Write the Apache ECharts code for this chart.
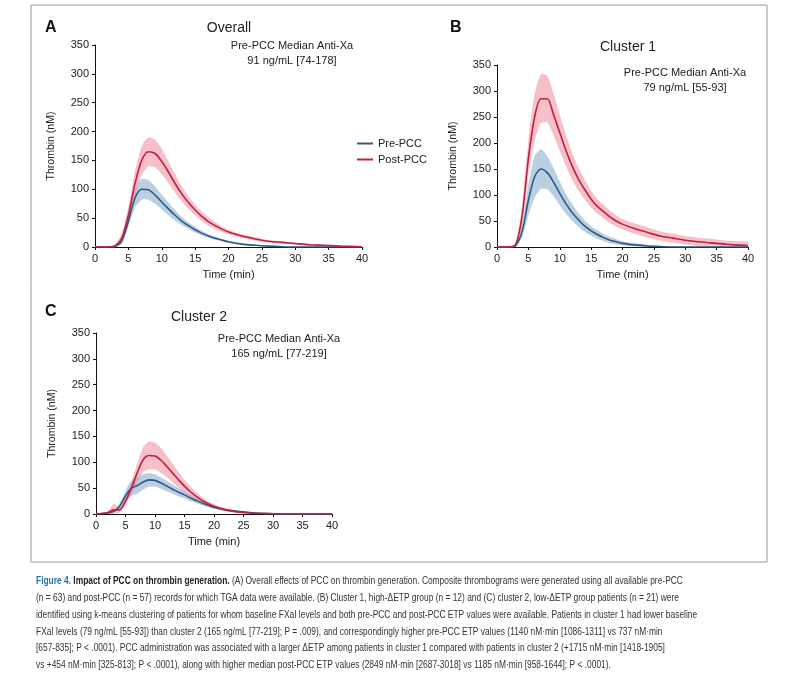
<!DOCTYPE html>
<html>
<head>
<meta charset="utf-8">
<script src="https://cdn.jsdelivr.net/npm/echarts@6/dist/echarts.min.js"></script>
<style>html,body{margin:0;background:#fff}#chart{width:800px;height:675px}</style>
</head>
<body>
<div id="chart"></div>
<script>
// sample times (min), shared by all curves
const times = [0, 2, 3, 4, 5, 6, 7, 8, 9, 10, 11, 12, 13, 14, 15, 16, 17, 18, 19, 20, 22, 24, 26, 28, 30, 32, 34, 36, 38, 40];

const overallPre = [0, 0, 1, 10, 45, 85, 100, 99, 90, 78, 66, 55, 45, 37, 30, 24, 19, 15, 12, 9, 5, 3, 1.5, 0.5, 0, 0, 0, 0, 0, 0];
const overallPreSpread = [0, 0, 1, 4, 10, 16, 18, 17, 15, 13, 11, 9, 7, 6, 5, 4, 3, 3, 2, 2, 1, 1, 0.5, 0.3, 0, 0, 0, 0, 0, 0];
const overallPost = [0, 0, 2, 15, 55, 110, 150, 165, 162, 148, 130, 110, 92, 77, 64, 53, 44, 37, 31, 26, 19, 14, 10, 8, 6, 4, 3, 2, 1, 0.5];
const overallPostSpread = [0, 1, 3, 8, 15, 22, 25, 25, 24, 22, 19, 16, 13, 11, 9, 8, 7, 6, 5, 4, 3, 3, 2, 2, 2, 1.5, 1.5, 1, 1, 1];

const c1Pre = [0, 0, 3, 30, 90, 135, 150, 143, 125, 103, 83, 66, 52, 40, 31, 24, 18, 13, 10, 7, 4, 2, 1, 0, 0, 0, 0, 0, 0, 0];
const c1PreSpread = [0, 0, 2, 12, 30, 40, 38, 32, 27, 23, 19, 16, 13, 11, 9, 8, 7, 6, 5, 4, 3, 2, 1, 0.5, 0, 0, 0, 0, 0, 0];
const c1Post = [0, 0, 5, 60, 170, 250, 285, 285, 255, 220, 185, 155, 130, 110, 92, 78, 68, 58, 50, 44, 35, 28, 21, 17, 13, 10, 8, 6, 4, 3];
const c1PostSpread = [0, 0, 4, 20, 35, 45, 47, 45, 40, 35, 30, 26, 22, 19, 16, 14, 13, 12, 11, 10, 10, 10, 9, 9, 8, 8, 8, 7, 7, 7];

const c2Pre = [0, 2, 5, 15, 35, 50, 55, 62, 66, 65, 60, 54, 48, 42, 37, 31, 26, 21, 17, 13, 8, 5, 3, 1.5, 0.5, 0, 0, 0, 0, 0];
const c2PreSpread = [0, 1, 2, 5, 10, 15, 16, 15, 13, 12, 11, 10, 9, 8, 7, 6, 5, 4, 4, 3, 2, 1.5, 1, 0.5, 0.2, 0, 0, 0, 0, 0];
const c2Post = [0, 3, 8, 8, 25, 50, 80, 105, 113, 112, 104, 92, 79, 66, 54, 43, 34, 26, 20, 15, 8, 4, 2, 1, 0.5, 0, 0, 0, 0, 0];
const c2PostSpread = [0, 2, 12, 5, 8, 12, 18, 24, 27, 26, 24, 21, 18, 15, 12, 10, 8, 6, 5, 4, 3, 2, 1, 0.5, 0.3, 0, 0, 0, 0, 0];

const BLUE = '#2d5a86', BLUE_BAND = 'rgba(120,160,200,0.5)';
const RED = '#c0203f', RED_BAND = 'rgba(235,130,150,0.5)';
const sans = 'Liberation Sans, Arial, sans-serif';

const grids = [
  { left: 95, top: 45, width: 267, height: 202 },
  { left: 497, top: 65, width: 251, height: 182 },
  { left: 96, top: 333, width: 236, height: 181 }
];

function xAxisFor(i) {
  return {
    type: 'value', gridIndex: i, min: 0, max: 40, interval: 5,
    name: 'Time (min)', nameLocation: 'middle', nameGap: 22,
    nameTextStyle: { fontFamily: sans, fontSize: 11, color: '#222' },
    axisLine: { lineStyle: { color: '#111' } },
    axisTick: { lineStyle: { color: '#111' }, length: 3 },
    axisLabel: { color: '#222', fontSize: 11, fontFamily: sans, margin: 6 },
    splitLine: { show: false }
  };
}
function yAxisFor(i) {
  return {
    type: 'value', gridIndex: i, min: 0, max: 350, interval: 50,
    name: 'Thrombin (nM)', nameLocation: 'middle', nameGap: 38,
    nameTextStyle: { fontFamily: sans, fontSize: 10.5, color: '#222' },
    axisLine: { show: true, lineStyle: { color: '#111' } },
    axisTick: { show: true, lineStyle: { color: '#111' }, length: 3 },
    axisLabel: { color: '#222', fontSize: 11, fontFamily: sans, margin: 6 },
    splitLine: { show: false }
  };
}

function band(i, vals, spread, color) {
  const data = times.map((t, k) => [t, Math.max(0, vals[k] - spread[k]), vals[k] + spread[k]]);
  return {
    type: 'custom', xAxisIndex: i, yAxisIndex: i, silent: true, z: 1,
    data: [0],
    renderItem: function (params, api) {
      const up = data.map(d => api.coord([d[0], d[2]]));
      const lo = data.map(d => api.coord([d[0], d[1]])).reverse();
      return { type: 'polygon', shape: { points: up.concat(lo), smooth: 0.2 }, style: { fill: color } };
    }
  };
}
function line(i, name, vals, color) {
  return {
    type: 'line', name: name, xAxisIndex: i, yAxisIndex: i, smooth: 0.3, symbol: 'none', z: 3,
    lineStyle: { color: color, width: 1.6 }, itemStyle: { color: color },
    data: times.map((t, k) => [t, vals[k]])
  };
}

function txt(x, y, text, size, opts) {
  return { type: 'text', x: x, y: y,
    style: Object.assign({ text: text, fontSize: size, fontFamily: sans, fill: '#222' }, opts || {}) };
}

const captionLines = [
  '(n = 63) and post-PCC (n = 57) records for which TGA data were available. (B) Cluster 1, high-ΔETP group (n = 12) and (C) cluster 2, low-ΔETP group patients (n = 21) were',
  'identified using k-means clustering of patients for whom baseline FXaI levels and both pre-PCC and post-PCC ETP values were available. Patients in cluster 1 had lower baseline',
  'FXaI levels (79 ng/mL [55-93]) than cluster 2 (165 ng/mL [77-219]; P = .009), and correspondingly higher pre-PCC ETP values (1140 nM·min [1086-1311] vs 737 nM·min',
  '[657-835]; P < .0001). PCC administration was associated with a larger ΔETP among patients in cluster 1 compared with patients in cluster 2 (+1715 nM·min [1418-1905]',
  'vs +454 nM·min [325-813]; P < .0001), along with higher median post-PCC ETP values (2849 nM·min [2687-3018] vs 1185 nM·min [958-1644]; P < .0001).'
];
const CAP_SCALE = 0.8;

const graphics = [
  { type: 'rect', shape: { x: 31, y: 5, width: 736, height: 557 }, style: { fill: 'none', stroke: '#999', lineWidth: 1 } },
  txt(45, 20, 'A', 16, { fontWeight: 'bold', fill: '#111' }),
  txt(450, 20, 'B', 16, { fontWeight: 'bold', fill: '#111' }),
  txt(45, 304, 'C', 16, { fontWeight: 'bold', fill: '#111' }),
  txt(229, 21, 'Overall', 14, { align: 'center' }),
  txt(628, 40, 'Cluster 1', 14, { align: 'center' }),
  txt(199, 310, 'Cluster 2', 14, { align: 'center' }),
  txt(292, 38, 'Pre-PCC Median Anti-Xa\n91 ng/mL [74-178]', 11, { align: 'center', lineHeight: 15 }),
  txt(685, 65, 'Pre-PCC Median Anti-Xa\n79 ng/mL [55-93]', 11, { align: 'center', lineHeight: 15 }),
  txt(279, 331, 'Pre-PCC Median Anti-Xa\n165 ng/mL [77-219]', 11, { align: 'center', lineHeight: 15 }),
  {
    type: 'text', x: 36, y: 576, scaleX: CAP_SCALE,
    style: {
      text: '{b|Figure 4.} {k|Impact of PCC on thrombin generation.} (A) Overall effects of PCC on thrombin generation. Composite thrombograms were generated using all available pre-PCC',
      fontSize: 10.5, fontFamily: sans, fill: '#333',
      rich: { b: { fill: '#2a6fa8', fontWeight: 'bold', fontSize: 10.5, fontFamily: sans }, k: { fill: '#222', fontWeight: 'bold', fontSize: 10.5, fontFamily: sans } }
    }
  }
];
captionLines.forEach((l, k) => graphics.push({
  type: 'text', x: 36, y: 593 + k * 16.6, scaleX: CAP_SCALE,
  style: { text: l, fontSize: 10.5, fontFamily: sans, fill: '#333' }
}));

const chart = echarts.init(document.getElementById('chart'));
chart.setOption({
  animation: false,
  backgroundColor: '#fff',
  grid: grids,
  xAxis: [xAxisFor(0), xAxisFor(1), xAxisFor(2)],
  yAxis: [yAxisFor(0), yAxisFor(1), yAxisFor(2)],
  legend: {
    left: 352, top: 133, orient: 'vertical', itemGap: 5, itemWidth: 16, itemHeight: 2,
    icon: 'rect', data: ['Pre-PCC', 'Post-PCC'],
    textStyle: { fontSize: 11, fontFamily: sans, color: '#222' }
  },
  series: [
    band(0, overallPre, overallPreSpread, BLUE_BAND),
    band(0, overallPost, overallPostSpread, RED_BAND),
    line(0, 'Pre-PCC', overallPre, BLUE),
    line(0, 'Post-PCC', overallPost, RED),
    band(1, c1Pre, c1PreSpread, BLUE_BAND),
    band(1, c1Post, c1PostSpread, RED_BAND),
    line(1, 'Pre-PCC', c1Pre, BLUE),
    line(1, 'Post-PCC', c1Post, RED),
    band(2, c2Pre, c2PreSpread, BLUE_BAND),
    band(2, c2Post, c2PostSpread, RED_BAND),
    line(2, 'Pre-PCC', c2Pre, BLUE),
    line(2, 'Post-PCC', c2Post, RED)
  ],
  graphic: graphics
});
</script>
</body>
</html>
